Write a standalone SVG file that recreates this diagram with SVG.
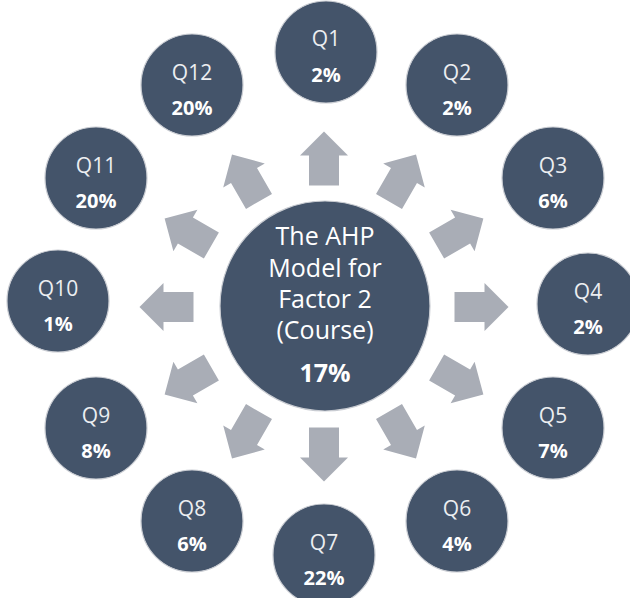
<svg xmlns="http://www.w3.org/2000/svg" width="630" height="598" viewBox="0 0 630 598">
<defs>
<style>
.node circle{fill:#44546a;stroke:#c9ccd2;stroke-width:1.2}
.lab{font-family:"Open Sans","Liberation Sans",sans-serif;font-size:21px;fill:#eceef1;text-anchor:middle}
.pct{font-family:"Open Sans","Liberation Sans",sans-serif;font-size:20px;font-weight:700;fill:#ffffff;text-anchor:middle}
.ctr{font-family:"Open Sans","Liberation Sans",sans-serif;font-size:25px;fill:#ffffff;text-anchor:middle}
.arrow{fill:#a9adb6}
</style>
<polygon id="arr" class="arrow" points="0,-27 24,-3 15,-3 15,27 -15,27 -15,-3 -24,-3"/>
</defs>
<rect width="630" height="598" fill="#ffffff"/>
<g id="connectors">
<use href="#arr" transform="translate(324,158.5) rotate(0)"/>
<use href="#arr" transform="translate(402.5,178) rotate(30)"/>
<use href="#arr" transform="translate(460,232) rotate(60)"/>
<use href="#arr" transform="translate(481.5,307) rotate(90)"/>
<use href="#arr" transform="translate(460,381) rotate(120)"/>
<use href="#arr" transform="translate(402.5,435) rotate(150)"/>
<use href="#arr" transform="translate(324,454.5) rotate(180)"/>
<use href="#arr" transform="translate(245.5,435) rotate(210)"/>
<use href="#arr" transform="translate(188,381) rotate(240)"/>
<use href="#arr" transform="translate(166.5,307) rotate(270)"/>
<use href="#arr" transform="translate(188,232) rotate(300)"/>
<use href="#arr" transform="translate(245.5,178) rotate(330)"/>
</g>
<g id="center" class="node">
<circle cx="325" cy="306" r="105"/>
<text class="ctr" x="325" y="245">The AHP</text>
<text class="ctr" x="325" y="277">Model for</text>
<text class="ctr" x="325" y="308">Factor 2</text>
<text class="ctr" x="325" y="339">(Course)</text>
<text class="ctr" x="325" y="382" font-weight="700">17%</text>
</g>
<g id="q1" class="node"><circle cx="326" cy="52" r="51"/><text class="lab" x="326" y="46">Q1</text><text class="pct" x="326" y="82">2%</text></g>
<g id="q2" class="node"><circle cx="457" cy="85" r="51"/><text class="lab" x="457" y="80">Q2</text><text class="pct" x="457" y="115">2%</text></g>
<g id="q3" class="node"><circle cx="553" cy="178" r="51"/><text class="lab" x="553" y="173">Q3</text><text class="pct" x="553" y="208">6%</text></g>
<g id="q4" class="node"><circle cx="588" cy="304" r="51"/><text class="lab" x="588" y="299">Q4</text><text class="pct" x="588" y="334">2%</text></g>
<g id="q5" class="node"><circle cx="553" cy="428" r="51"/><text class="lab" x="553" y="423">Q5</text><text class="pct" x="553" y="458">7%</text></g>
<g id="q6" class="node"><circle cx="457" cy="521" r="51"/><text class="lab" x="457" y="516">Q6</text><text class="pct" x="457" y="551">4%</text></g>
<g id="q7" class="node"><circle cx="324" cy="555" r="51"/><text class="lab" x="324" y="550">Q7</text><text class="pct" x="324" y="585">22%</text></g>
<g id="q8" class="node"><circle cx="192" cy="521" r="51"/><text class="lab" x="192" y="516">Q8</text><text class="pct" x="192" y="551">6%</text></g>
<g id="q9" class="node"><circle cx="96" cy="428" r="51"/><text class="lab" x="96" y="423">Q9</text><text class="pct" x="96" y="458">8%</text></g>
<g id="q10" class="node"><circle cx="58" cy="301" r="51"/><text class="lab" x="58" y="296">Q10</text><text class="pct" x="58" y="331">1%</text></g>
<g id="q11" class="node"><circle cx="96" cy="178" r="51"/><text class="lab" x="96" y="173">Q11</text><text class="pct" x="96" y="208">20%</text></g>
<g id="q12" class="node"><circle cx="192" cy="85" r="51"/><text class="lab" x="192" y="80">Q12</text><text class="pct" x="192" y="115">20%</text></g>
</svg>
